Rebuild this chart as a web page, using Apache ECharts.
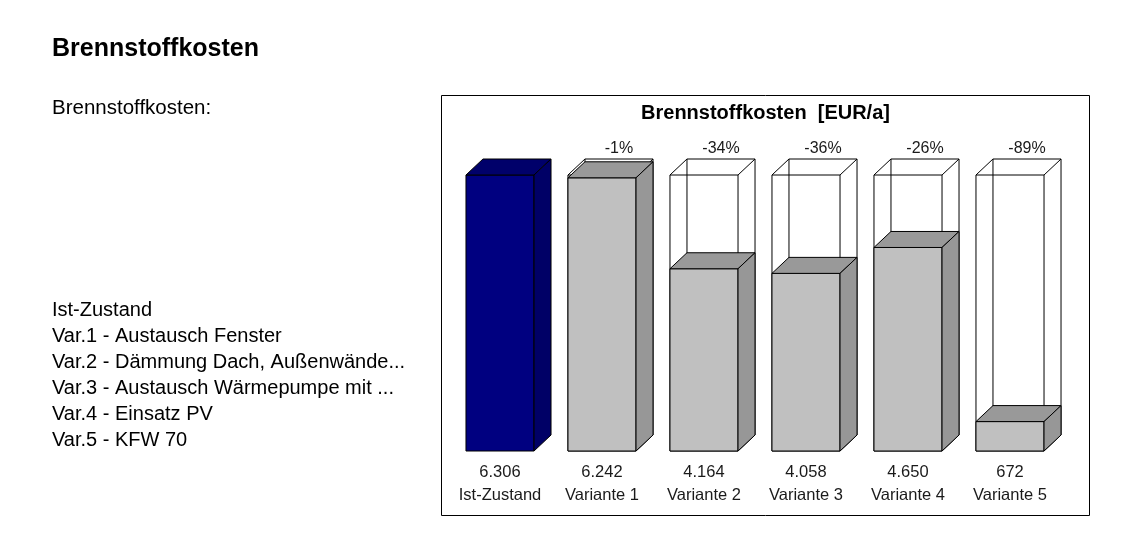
<!DOCTYPE html>
<html>
<head>
<meta charset="utf-8">
<title>Brennstoffkosten</title>
<script src="https://cdn.jsdelivr.net/npm/echarts@6/dist/echarts.min.js"></script>
<style>
  html, body { margin: 0; padding: 0; background: #fff; }
  #chart { width: 1130px; height: 547px; }
</style>
</head>
<body>
<div id="chart"></div>
<script>
// Daten
const categories = ['Ist-Zustand', 'Variante 1', 'Variante 2', 'Variante 3', 'Variante 4', 'Variante 5'];
const costs = [6306, 6242, 4164, 4058, 4650, 672];
const changeLabels = ['', '-1%', '-34%', '-36%', '-26%', '-89%'];
const notes = [
  'Ist-Zustand',
  'Var.1 - Austausch Fenster',
  'Var.2 - Dämmung Dach, Außenwände...',
  'Var.3 - Austausch Wärmepumpe mit ...',
  'Var.4 - Einsatz PV',
  'Var.5 - KFW 70'
];

const FONT = '"Liberation Sans", Arial, sans-serif';
const DX = 17;   // Tiefe nach rechts
const DY = 16;   // Tiefe nach oben

// Tausenderpunkt wie im Original
const fmt = v => String(v).replace(/\B(?=(\d{3})+(?!\d))/g, '.');

const chart = echarts.init(document.getElementById('chart'));

function renderBar(params, api) {
  const i = api.value(0);
  const v = api.value(1);
  const base = api.coord([i, 0]);
  const top = api.coord([i, v]);
  const full = api.coord([i, costs[0]]);
  const w = api.size([1, 0])[0] * 0.667;
  const x0 = base[0] - w / 2;
  const x1 = base[0] + w / 2;
  const yb = base[1];
  const yt = top[1];
  const yf = full[1];
  const line = { stroke: '#000', lineWidth: 1, fill: null };
  const children = [];

  // Drahtrahmen in Höhe des Ist-Zustands
  if (i > 0) {
    children.push(
      { type: 'rect', shape: { x: x0 + DX, y: yf - DY, width: w, height: yb - yf }, style: line },
      { type: 'rect', shape: { x: x0, y: yf, width: w, height: yb - yf }, style: line },
      { type: 'line', shape: { x1: x0, y1: yf, x2: x0 + DX, y2: yf - DY }, style: line },
      { type: 'line', shape: { x1: x1, y1: yf, x2: x1 + DX, y2: yf - DY }, style: line },
      { type: 'line', shape: { x1: x1, y1: yb, x2: x1 + DX, y2: yb - DY }, style: line }
    );
  }

  const front = i === 0 ? '#000080' : '#c0c0c0';
  const shade = i === 0 ? '#000066' : '#979797';
  const faceTop = i === 0 ? '#00006a' : '#999999';

  children.push(
    { type: 'rect', shape: { x: x0, y: yt, width: w, height: yb - yt },
      style: { fill: front, stroke: '#000', lineWidth: 1 } },
    { type: 'polygon', shape: { points: [[x0, yt], [x1, yt], [x1 + DX, yt - DY], [x0 + DX, yt - DY]] },
      style: { fill: faceTop, stroke: '#000', lineWidth: 1 } },
    { type: 'polygon', shape: { points: [[x1, yt], [x1 + DX, yt - DY], [x1 + DX, yb - DY], [x1, yb]] },
      style: { fill: shade, stroke: '#000', lineWidth: 1 } }
  );

  if (changeLabels[i]) {
    children.push({
      type: 'text',
      style: {
        text: changeLabels[i], x: base[0] + DX, y: yf - DY - 10.5,
        align: 'center', verticalAlign: 'middle',
        fontSize: 16, fontFamily: FONT, fill: '#1a1a1a'
      }
    });
  }
  return { type: 'group', children };
}

const graphics = [
  { type: 'rect', shape: { x: 441.5, y: 95.5, width: 648, height: 420 },
    style: { fill: null, stroke: '#000', lineWidth: 1 } },
  { type: 'text', style: { text: 'Brennstoffkosten', x: 52, y: 49.5, verticalAlign: 'middle',
      fontSize: 25, fontWeight: 'bold', fontFamily: FONT, fill: '#000' } },
  { type: 'text', style: { text: 'Brennstoffkosten:', x: 52, y: 108, verticalAlign: 'middle',
      fontSize: 20.5, fontFamily: FONT, fill: '#000' } },
  { type: 'text', style: { text: 'Brennstoffkosten  [EUR/a]', x: 765.5, y: 113.5, align: 'center',
      verticalAlign: 'middle', fontSize: 20, fontWeight: 'bold', fontFamily: FONT, fill: '#000' } }
].concat(notes.map((t, k) => ({
  type: 'text',
  style: { text: t, x: 52, y: 310 + k * 26.1, verticalAlign: 'middle',
    fontSize: 20, fontFamily: FONT, fill: '#000' }
})));

chart.setOption({
  animation: false,
  backgroundColor: '#fff',
  graphic: graphics,
  grid: { left: 449, top: 175, width: 612, height: 276 },
  xAxis: {
    type: 'category',
    data: categories,
    axisLine: { show: false },
    axisTick: { show: false },
    axisLabel: {
      interval: 0,
      margin: 10,
      fontSize: 16.5,
      lineHeight: 23,
      fontFamily: FONT,
      color: '#1a1a1a',
      formatter: (val, idx) => fmt(costs[idx]) + '\n' + val
    }
  },
  yAxis: {
    type: 'value',
    min: 0,
    max: costs[0],
    show: false
  },
  series: [{
    type: 'custom',
    clip: false,
    renderItem: renderBar,
    encode: { x: 0, y: 1 },
    data: costs.map((v, i) => [i, v])
  }]
});
</script>
</body>
</html>
